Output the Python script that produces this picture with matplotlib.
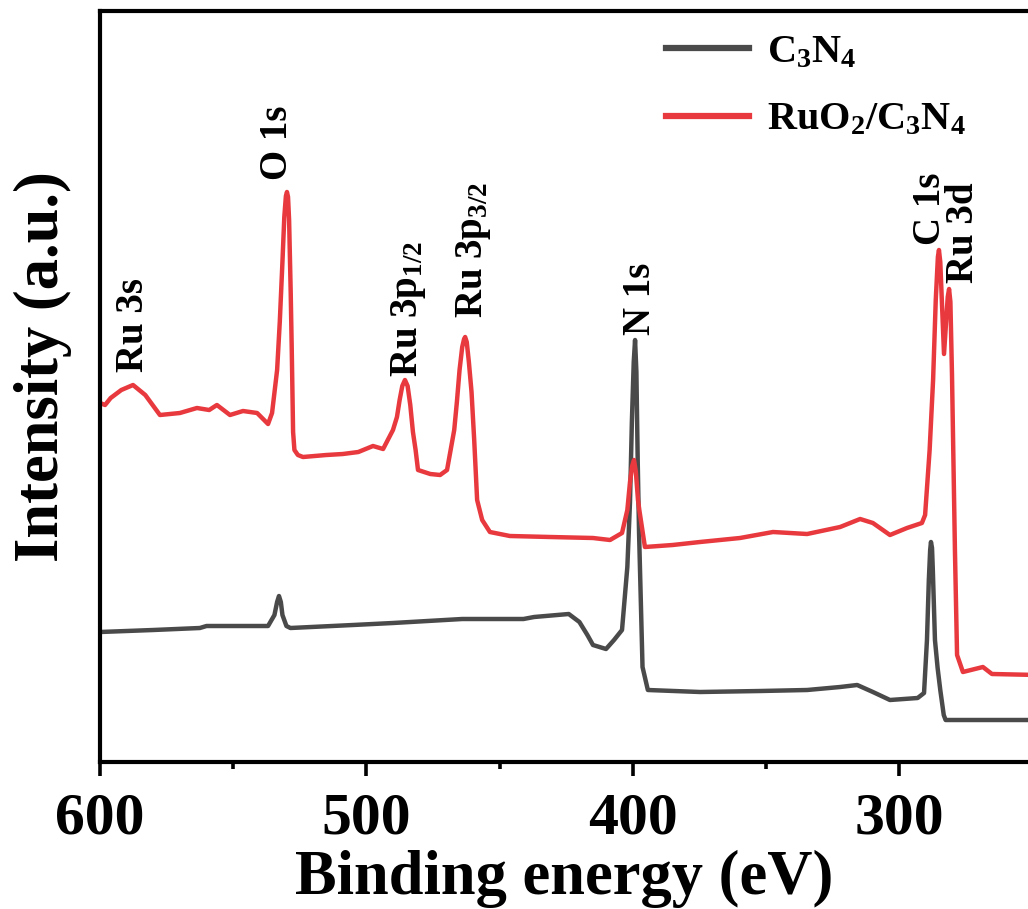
import matplotlib
matplotlib.use("Agg")
import matplotlib.pyplot as plt
from matplotlib.ticker import MultipleLocator, NullLocator

plt.rcParams['font.family'] = ['Liberation Serif', 'DejaVu Serif']
plt.rcParams['font.weight'] = 'bold'
plt.rcParams['mathtext.fontset'] = 'custom'
plt.rcParams['mathtext.rm'] = 'Liberation Serif:bold'
plt.rcParams['mathtext.bf'] = 'Liberation Serif:bold'
plt.rcParams['mathtext.it'] = 'Liberation Serif:bold'

# ---- data (binding energy in eV, intensity in arbitrary units) ----
red_energy = [600.0, 598.1, 596.0, 592.0, 587.6, 583.0, 577.5, 570.0, 563.6, 559.0,
              556.1, 551.2, 546.3, 541.0, 536.9, 535.4, 533.5, 532.5, 531.5, 530.8,
              530.2, 529.8, 529.4, 529.0, 528.4, 528.0, 527.5, 527.0, 525.7, 523.8,
              515.0, 508.8, 503.0, 497.5, 493.7, 490.0, 488.5, 487.5, 486.5, 485.5,
              484.5, 483.5, 482.5, 481.5, 480.6, 476.0, 472.3, 469.7, 467.0, 466.0,
              465.0, 464.0, 463.3, 462.9, 462.3, 461.5, 460.5, 459.5, 458.4, 456.5,
              453.6, 446.1, 431.0, 414.9, 408.5, 404.0, 402.0, 401.0, 400.2, 399.5,
              398.8, 398.0, 397.5, 395.4, 385.0, 374.7, 359.7, 347.3, 334.5, 322.1,
              314.6, 309.8, 303.4, 297.0, 291.4, 290.2, 288.5, 287.2, 286.2, 285.4,
              285.0, 284.5, 283.1, 281.7, 281.2, 280.7, 280.1, 279.0, 278.2, 276.0,
              268.5, 265.1, 248.0]
red_intensity = [359, 357, 364, 372, 377, 367, 347, 349, 354, 352,
                 357, 347, 351, 349, 338, 349, 392, 440, 500, 545,
                 566, 570, 565, 542, 470, 412, 330, 312, 307, 305,
                 307, 308, 310, 316, 313, 332, 345, 362, 376, 382,
                 376, 357, 330, 312, 292, 288, 287, 292, 332, 360,
                 392, 415, 423, 425, 420, 400, 370, 322, 262, 242,
                 230, 226, 225, 224, 222, 229, 252, 280, 296, 302,
                 290, 262, 252, 215, 217, 220, 224, 230, 228, 235,
                 243, 239, 227, 234, 239, 247, 312, 382, 462, 505,
                 512, 500, 408, 465, 473, 460, 387, 212, 107, 90,
                 95, 88, 87]

black_energy = [600.0, 590.0, 580.0, 562.5, 560.0, 540.0, 536.9, 534.5, 533.5, 532.8,
                532.1, 531.5, 530.0, 528.5, 505.0, 490.0, 464.0, 441.0, 437.0, 424.0,
                420.0, 417.0, 414.9, 410.0, 407.0, 404.0, 402.0, 401.0, 400.3, 399.6,
                399.1, 398.6, 398.1, 397.6, 396.3, 394.3, 374.7, 352.0, 334.5, 322.1,
                315.7, 309.8, 303.4, 293.0, 290.6, 289.5, 288.8, 288.3, 288.0, 287.6,
                287.3, 286.5, 285.5, 284.5, 283.2, 282.5, 248.0]
black_intensity = [130, 131, 132, 134, 136, 136, 136, 147, 160, 166,
                   160, 147, 136, 134, 137, 139, 143, 143, 145, 148,
                   140, 127, 117, 113, 122, 132, 195, 260, 340, 400,
                   422, 390, 300, 229, 95, 72, 70, 71, 72, 75,
                   77, 70, 62, 64, 69, 122, 182, 212, 220, 214,
                   192, 122, 94, 72, 47, 42, 42]

series_labels = ['C$_{3}$N$_{4}$', 'RuO$_{2}$/C$_{3}$N$_{4}$']
peak_labels = ['Ru 3s', 'O 1s', 'Ru 3p$_{1/2}$', 'Ru 3p$_{3/2}$', 'N 1s', 'C 1s', 'Ru 3d']
peak_label_energy = [587.6, 533.5, 484.0, 459.6, 396.9, 288.0, 275.6]
peak_label_intensity = [390, 582, 385, 444, 427, 517, 479]

xticks_major = [600, 500, 400, 300]

# ---- figure ----
W, H = 1028, 909
fig = plt.figure(figsize=(W / 100, H / 100), dpi=100)
ax_left, ax_right, ax_top, ax_bottom = 100, 1040, 11, 762
ax = fig.add_axes([ax_left / W, 1 - ax_bottom / H, (ax_right - ax_left) / W, (ax_bottom - ax_top) / H])

black_col = '#4a4a4a'
red_col = '#e8393e'
ax.plot(black_energy, black_intensity, color=black_col, lw=3.2, label=series_labels[0],
        solid_joinstyle='round')
ax.plot(red_energy, red_intensity, color=red_col, lw=3.2, label=series_labels[1],
        solid_joinstyle='round')

px_per_ev = (899 - 100) / 300.0
ax.set_xlim(600, 600 - (ax_right - ax_left) / px_per_ev)
ax.set_ylim(0, ax_bottom - ax_top)

ax.set_xticks(xticks_major)
ax.xaxis.set_minor_locator(MultipleLocator(50))
ax.yaxis.set_major_locator(NullLocator())
ax.tick_params(axis='x', which='major', direction='out', length=10, width=2.6,
               labelsize=43, pad=12)
ax.tick_params(axis='x', which='minor', direction='out', length=5, width=2.6)
for lab in ax.get_xticklabels():
    lab.set_fontweight('bold')
for sp in ax.spines.values():
    sp.set_linewidth(3.0)

ax.set_xlabel('Binding energy (eV)', fontsize=45, fontweight='bold', va='top')
ax.xaxis.set_label_coords((564 - ax_left) / (ax_right - ax_left), (ax_bottom - 850) / (ax_bottom - ax_top))
ax.set_ylabel('Intensity (a.u.)', fontsize=45, fontweight='bold', va='center')
ax.yaxis.set_label_coords((43 - ax_left) / (ax_right - ax_left), (ax_bottom - 367) / (ax_bottom - ax_top))

for lab, e, inten in zip(peak_labels, peak_label_energy, peak_label_intensity):
    ax.text(e, inten, lab, rotation=90, ha='center', va='bottom', fontsize=28, fontweight='bold')

leg = ax.legend(loc='upper left', bbox_to_anchor=(646 / W, 1 - 14 / H),
                bbox_transform=fig.transFigure, frameon=False, fontsize=29,
                handlelength=2.05, handletextpad=0.45, labelspacing=0.75, borderpad=0)
for line in leg.get_lines():
    line.set_linewidth(4.5)

fig.savefig('out.png', dpi=100)
